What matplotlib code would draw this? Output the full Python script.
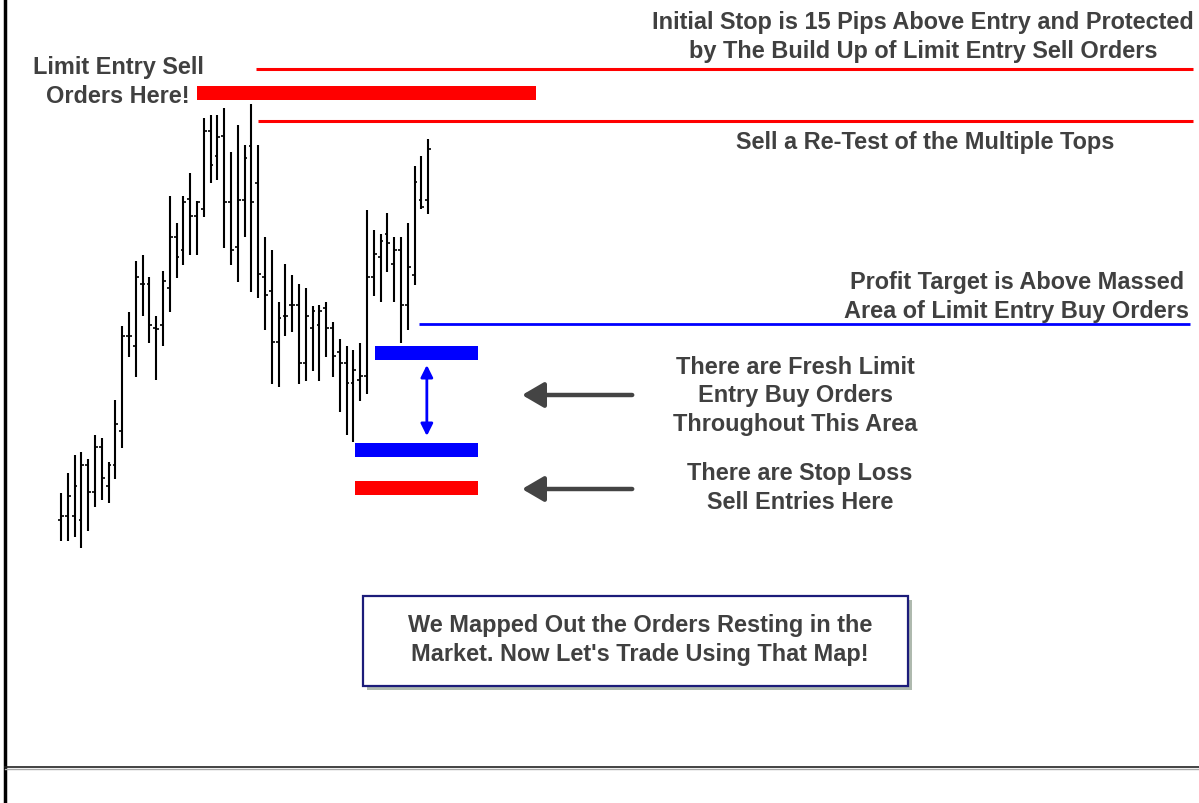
import matplotlib
matplotlib.use('Agg')
import matplotlib.pyplot as plt
from matplotlib.patches import Rectangle

# OHLC bars, price in chart points (higher = higher price)
highs = [106, 126, 144, 147, 140, 164, 161, 137, 199, 273, 287, 338, 344, 322, 283,
         328, 403, 376, 403, 426, 398, 481, 484, 484, 491, 447, 474, 454, 495, 454,
         362, 349, 297, 335, 324, 315, 311, 293, 294, 297, 277, 260, 253, 249, 256,
         389, 369, 365, 386, 362, 362, 376, 433, 443, 460]
lows = [58, 58, 62, 51, 68, 92, 99, 96, 120, 151, 242, 222, 283, 256, 219,
        253, 287, 321, 334, 344, 344, 382, 416, 419, 351, 334, 317, 362, 307, 301,
        269, 215, 212, 263, 267, 215, 218, 228, 218, 242, 222, 187, 164, 157, 198,
        205, 303, 297, 327, 297, 256, 269, 314, 390, 385]
opens = [79, 83, 83, 79, 134, 107, 152, 113, 134, 168, 263, 253, 315, 315, 271,
         274, 311, 362, 349, 400, 383, 390, 468, 443, 463, 397, 352, 399, 453, 416,
         322, 308, 257, 283, 294, 294, 236, 271, 274, 291, 271, 247, 236, 216, 219,
         223, 322, 342, 365, 335, 349, 294, 324, 399, 399]
closes = [83, 103, 113, 134, 107, 152, 121, 134, 175, 263, 263, 322, 315, 274, 270,
          318, 362, 342, 397, 383, 397, 468, 434, 462, 397, 349, 399, 441, 397, 325,
          304, 257, 281, 283, 294, 236, 283, 288, 288, 271, 243, 236, 216, 229, 223,
          322, 345, 358, 356, 349, 294, 332, 417, 392, 450]

# order levels (price)
stop_level = 530.5
entry_level = 478
target_level = 275
sell_zone = (499, 513)
buy_zone_top = (239, 253)
buy_zone_bottom = (142, 156)
stoploss_zone = (104, 118)

W, H = 1199, 804
fig = plt.figure(figsize=(W / 100, H / 100), dpi=100)
ax = fig.add_axes([0, 0, 1, 1])
ax.set_xlim(-61 / 6.8, (W - 61) / 6.8)
ax.set_ylim(-204, 600)
ax.axis('off')

idx = list(range(len(highs)))
ax.vlines(idx, lows, highs, color='black', lw=1.5)
ax.hlines(opens, [i - 0.4 for i in idx], idx, color='black', lw=1.2)
ax.hlines(closes, idx, [i + 0.4 for i in idx], color='black', lw=1.2)

red = '#ff0000'
blue = '#0000ff'
# level lines
ax.hlines(stop_level, 28.7, 166.5, color=red, lw=2.2)
ax.hlines(entry_level, 29.0, 166.5, color=red, lw=2.2)
ax.hlines(target_level, 52.6, 166.1, color=blue, lw=2)

# order zones
ax.fill_between([20.0, 69.9], *sell_zone, color=red, lw=0)
ax.fill_between([46.2, 61.3], *buy_zone_top, color=blue, lw=0)
ax.fill_between([43.2, 61.3], *buy_zone_bottom, color=blue, lw=0)
ax.fill_between([43.2, 61.3], *stoploss_zone, color=red, lw=0)

# double arrow through the buy zone
ax.annotate('', xy=(53.8, buy_zone_top[0] - 5), xytext=(53.8, buy_zone_bottom[1] + 7),
            arrowprops=dict(arrowstyle='<|-|>', color=blue, lw=2,
                            mutation_scale=18, shrinkA=0, shrinkB=0))
# grey pointers
for lvl in [204, 110]:
    ax.annotate('', xy=(67.8, lvl), xytext=(84.0, lvl),
                arrowprops=dict(arrowstyle='-|>,head_length=0.6,head_width=0.35',
                                color='#444444', lw=3.2,
                                mutation_scale=22, shrinkA=0, shrinkB=0))

tc = '#404040'
fk = dict(family=['Liberation Sans', 'DejaVu Sans'], fontweight='bold',
          fontsize=16.9, color=tc, ha='center', va='center', linespacing=1.28)


def ftext(x, y, s, **kw):
    d = dict(fk)
    d.update(kw)
    fig.text(x / W, 1 - y / H, s, **d)


ftext(923, 37, 'Initial Stop is 15 Pips Above Entry and Protected\nby The Build Up of Limit Entry Sell Orders')
ftext(118, 82, 'Limit Entry Sell\nOrders Here!')
ftext(925, 143, 'Sell a Re-Test of the Multiple Tops')
ftext(1017, 297, 'Profit Target is Above Massed\nArea of Limit Entry Buy Orders')
ftext(795, 396, 'There are Fresh Limit\nEntry Buy Orders\nThroughout This Area')
ftext(800, 488, 'There are Stop Loss\nSell Entries Here')

# message box with shadow
bx, by, bw, bh = 363, 597, 545, 90
fig.patches.append(Rectangle(((bx + 4) / W, 1 - (by + bh + 4) / H), bw / W, bh / H,
                             transform=fig.transFigure, facecolor='#9aa89a',
                             edgecolor='none', alpha=0.8))
fig.patches.append(Rectangle((bx / W, 1 - (by + bh) / H), bw / W, bh / H,
                             transform=fig.transFigure, facecolor='white',
                             edgecolor='#1c1c7a', lw=1.6))
ftext(640, 640, "We Mapped Out the Orders Resting in the\nMarket. Now Let's Trade Using That Map!")

# frame lines
ax.plot([4.5 / W, 4.5 / W], [0, 1], transform=ax.transAxes, color='black', lw=2.5)
ax.plot([5 / W, 1], [1 - 768 / H, 1 - 768 / H], transform=ax.transAxes, color='#222222', lw=1.2)
ax.plot([5 / W, 1], [1 - 770 / H, 1 - 770 / H], transform=ax.transAxes, color='#aaaaaa', lw=1)

fig.savefig('out.png', dpi=100)
